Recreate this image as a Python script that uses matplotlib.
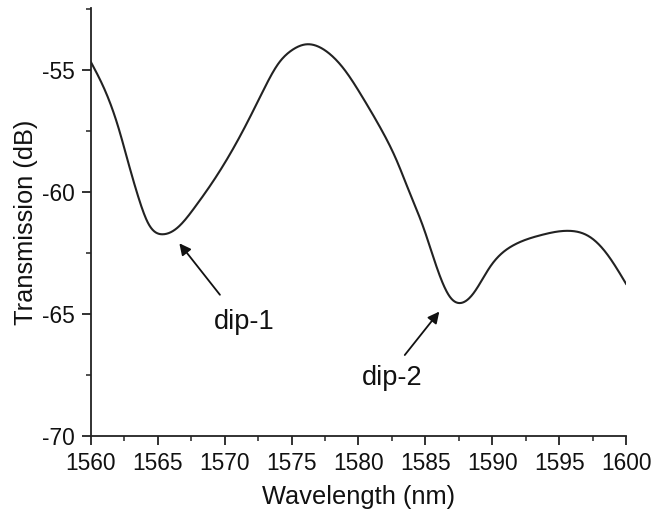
import matplotlib
matplotlib.use("Agg")
import matplotlib.pyplot as plt
from matplotlib.ticker import MultipleLocator
import numpy as np

wavelength = [1560.0, 1561.05, 1562.04, 1562.8, 1563.54, 1564.29, 1565.33, 1566.53, 1567.78, 1569.02,
              1570.27, 1571.51, 1572.76, 1574.0, 1575.0, 1576.13, 1577.5, 1578.99, 1580.3, 1581.6,
              1582.85, 1583.85, 1584.84, 1585.84, 1586.84, 1587.59, 1588.58, 1589.83, 1591.58,
              1593.6, 1595.8, 1597.3, 1598.55, 1600.0]
transmission = [-54.66, -55.82, -57.32, -58.8, -60.19, -61.28, -61.72, -61.42, -60.6, -59.64,
                -58.55, -57.32, -55.96, -54.73, -54.18, -53.93, -54.18, -55.0, -56.1, -57.32,
                -58.69, -60.05, -61.42, -63.06, -64.29, -64.54, -64.15, -63.06, -62.17,
                -61.76, -61.58, -61.83, -62.51, -63.75]

plt.rcParams['font.family'] = ['Liberation Sans', 'DejaVu Sans']
plt.rcParams['axes.unicode_minus'] = False

fig = plt.figure(figsize=(6.59, 5.12), dpi=100)
ax = fig.add_axes([0.138, 0.148, 0.812, 0.836])

def natural_spline(x, y, xq):
    x = np.asarray(x, float); y = np.asarray(y, float)
    n = len(x)
    h = np.diff(x)
    A = np.zeros((n, n)); b = np.zeros(n)
    A[0, 0] = 1; A[-1, -1] = 1
    for i in range(1, n - 1):
        A[i, i - 1] = h[i - 1]
        A[i, i] = 2 * (h[i - 1] + h[i])
        A[i, i + 1] = h[i]
        b[i] = 6 * ((y[i + 1] - y[i]) / h[i] - (y[i] - y[i - 1]) / h[i - 1])
    M = np.linalg.solve(A, b)
    idx = np.clip(np.searchsorted(x, xq) - 1, 0, n - 2)
    xi, xi1 = x[idx], x[idx + 1]
    hi = xi1 - xi
    return (M[idx] * (xi1 - xq) ** 3 / (6 * hi) + M[idx + 1] * (xq - xi) ** 3 / (6 * hi)
            + (y[idx] / hi - M[idx] * hi / 6) * (xi1 - xq)
            + (y[idx + 1] / hi - M[idx + 1] * hi / 6) * (xq - xi))

xf = np.linspace(wavelength[0], wavelength[-1], 1000)
yf = natural_spline(wavelength, transmission, xf)
ax.plot(xf, yf, color='#222222', lw=1.5)

ax.set_xlim(1560, 1600)
ax.set_ylim(-70, -52.45)
ax.xaxis.set_major_locator(MultipleLocator(5))
ax.xaxis.set_minor_locator(MultipleLocator(2.5))
ax.yaxis.set_major_locator(MultipleLocator(5))
ax.yaxis.set_minor_locator(MultipleLocator(2.5))
for s in ['top', 'right']:
    ax.spines[s].set_visible(False)
for s in ['left', 'bottom']:
    ax.spines[s].set_linewidth(1.3)
    ax.spines[s].set_color('#222222')
ax.tick_params(which='major', direction='out', length=6.5, width=1.3, labelsize=16.4,
               colors='#222222', labelcolor='#111111', pad=5)
ax.tick_params(which='minor', direction='out', length=3.5, width=1.1, colors='#222222')
ax.set_xlabel('Wavelength (nm)', fontsize=18.3, color='#111111', labelpad=7)
ax.set_ylabel('Transmission (dB)', fontsize=18.3, color='#111111', labelpad=3)

ax.annotate('', xy=(1566.48, -62.0), xytext=(1569.77, -64.29),
            arrowprops=dict(arrowstyle='-|>', color='#111111', lw=1.3, mutation_scale=17))
ax.text(1571.44, -65.3, 'dip-1', fontsize=19.5, ha='center', va='center', color='#111111')
ax.annotate('', xy=(1586.17, -64.8), xytext=(1583.33, -66.76),
            arrowprops=dict(arrowstyle='-|>', color='#111111', lw=1.3, mutation_scale=17))
ax.text(1582.5, -67.6, 'dip-2', fontsize=19.5, ha='center', va='center', color='#111111')

fig.savefig('out.png', dpi=100)
